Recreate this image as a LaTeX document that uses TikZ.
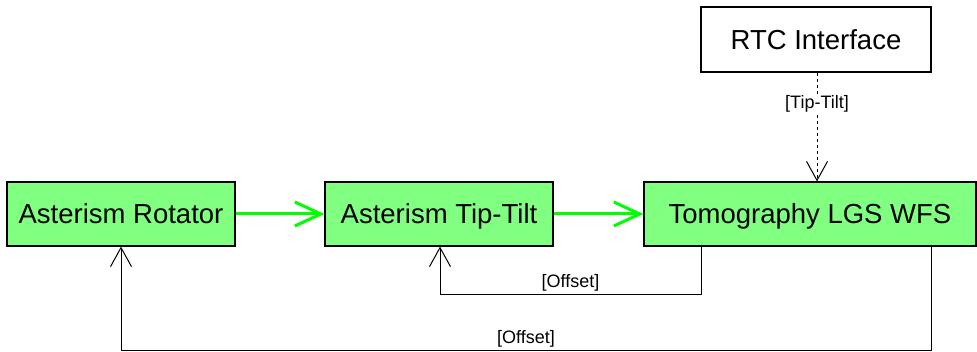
\documentclass[tikz,border=0pt]{standalone}
\usepackage{fontspec}
\setmainfont{Liberation Sans}
\usepackage{tikz}
\usetikzlibrary{arrows.meta}
\definecolor{boxgreen}{RGB}{128,255,128}
\tikzstyle{bloque} = [draw=black, line width=1.2pt, rectangle, minimum height=64pt, text height=20pt, text depth=0pt, font=\fontsize{27.5}{30}\selectfont]
\tikzstyle{verde} = [bloque, fill=boxgreen]
\tikzstyle{flujo} = [draw={rgb,255:red,0;green,255;blue,0}, line width=3pt, -{Straight Barb[length=26pt,width=24pt,line width=3pt]}]
\tikzstyle{retorno} = [draw=black, line width=1pt, -{Straight Barb[length=19pt,width=21pt,line width=1pt]}]
\tikzstyle{etiqueta} = [font=\fontsize{18}{20}\selectfont, inner sep=1pt]

\begin{document}
\begin{tikzpicture}[x=1pt, y=-1pt]
	\useasboundingbox (0,0) rectangle (977,352);
	\node[bloque, minimum width=230pt, minimum height=65pt](rtc) at (816,39.5) {RTC Interface};
	\node[verde, minimum width=228pt](rotador) at (121,214) {Asterism Rotator};
	\node[verde, minimum width=228pt](tiptilt) at (439,214) {Asterism Tip-Tilt};
	\node[verde, minimum width=332pt](lgs) at (810,214) {Tomography LGS WFS};
	\draw[flujo] (rotador) -- (tiptilt);
	\draw[flujo] (tiptilt) -- (lgs);
	\draw[retorno, dashed] (rtc.south -| 817,0) -- (lgs.north -| 817,0) node[etiqueta, fill=white, pos=0.29] {[Tip-Tilt]};
	\draw[retorno] (lgs.south -| 701,0) -- (701,295) -- node[etiqueta, above=2pt] {[Offset]} (440,295) -- (tiptilt.south -| 440,0);
	\draw[retorno] (lgs.south -| 931,0) -- (931,351) -- node[etiqueta, above=2pt, pos=0.5] {[Offset]} (121,351) -- (rotador.south);
\end{tikzpicture}
\end{document}
